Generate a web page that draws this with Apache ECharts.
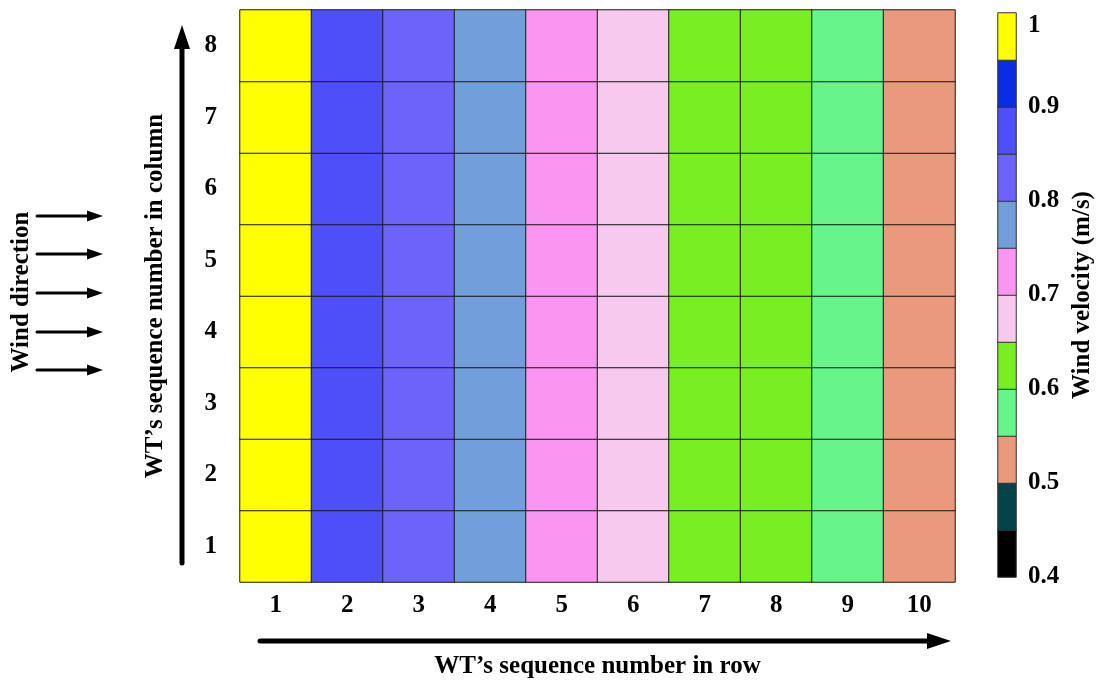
<!DOCTYPE html>
<html>
<head>
<meta charset="utf-8">
<script src="https://cdn.jsdelivr.net/npm/echarts@6/dist/echarts.min.js"></script>
<style>
  html, body { margin: 0; padding: 0; background: #fff; }
  #chart { width: 1096px; height: 686px; }
</style>
</head>
<body>
<div id="chart"></div>
<script>
// WT positions
const rowLabels = ['1', '2', '3', '4', '5', '6', '7', '8', '9', '10']
const colLabels = ['1', '2', '3', '4', '5', '6', '7', '8']
// wind velocity per row position (same along each column)
const velocity = [0.97, 0.87, 0.83, 0.78, 0.73, 0.68, 0.63, 0.62, 0.57, 0.52]

// colour bar bins (0.4 -> 1.0, step 0.05)
const binEdges = [0.40, 0.45, 0.50, 0.55, 0.60, 0.65, 0.70, 0.75, 0.80, 0.85, 0.90, 0.95, 1.00]
const binColors = ['#000000', '#04434a', '#ea9a7c', '#66f58a', '#77ef22', '#f8c9ef',
  '#fb95f2', '#729fda', '#6c64fa', '#4f4ffa', '#0a2ce6', '#ffff00']

const font = 'Liberation Serif'
const fs = 25

const cells = []
velocity.forEach((v, i) => {
  colLabels.forEach((c, j) => cells.push([i, j, v]))
})
const binNames = binColors.map((c, i) => String(i))
const barCells = binColors.map((c, i) => [0, i, (binEdges[i] + binEdges[i + 1]) / 2])
const pieces = binColors.map((c, i) => ({ gte: binEdges[i], lt: binEdges[i + 1], color: c }))
pieces[pieces.length - 1].lte = 1.0001

const chart = echarts.init(document.getElementById('chart'))

function arrow(x1, y1, x2, y2, w, headL, headW) {
  // straight arrow made of a line and a triangle head
  const dx = x2 - x1, dy = y2 - y1
  const len = Math.sqrt(dx * dx + dy * dy)
  const ux = dx / len, uy = dy / len
  const bx = x2 - ux * headL, by = y2 - uy * headL
  const px = -uy * headW / 2, py = ux * headW / 2
  return [{
    type: 'line',
    shape: { x1: x1, y1: y1, x2: bx + ux * 2, y2: by + uy * 2 },
    style: { stroke: '#000', lineWidth: w, lineCap: 'round' }
  }, {
    type: 'polygon',
    shape: { points: [[x2, y2], [bx + px, by + py], [bx - px, by - py]] },
    style: { fill: '#000' }
  }]
}

let graphics = []
graphics = graphics.concat(arrow(182, 563, 182, 25, 5, 24, 16))
graphics = graphics.concat(arrow(260, 641, 951, 641, 5, 24, 16))
;[216, 254, 293, 332, 370].forEach(y => {
  graphics = graphics.concat(arrow(37, y, 103, y, 3, 16, 11))
})
graphics.push({
  type: 'text',
  x: 22,
  y: 292,
  rotation: Math.PI / 2,
  style: {
    text: 'Wind direction',
    font: 'bold 25px "' + font + '"',
    fill: '#000',
    align: 'center',
    verticalAlign: 'middle'
  }
})

const labelStyle = { fontFamily: font, fontWeight: 'bold', fontSize: fs, color: '#000' }

chart.setOption({
  backgroundColor: '#fff',
  animation: false,
  grid: [
    { left: 240, top: 10, width: 715, height: 572 },
    { left: 998, top: 13, width: 18, height: 564 }
  ],
  xAxis: [{
    type: 'category',
    gridIndex: 0,
    data: rowLabels,
    name: 'WT’s sequence number in row',
    nameLocation: 'middle',
    nameGap: 72,
    nameTextStyle: labelStyle,
    axisLine: { show: false },
    axisTick: { show: false },
    axisLabel: Object.assign({ margin: 11 }, labelStyle),
    splitLine: { show: false }
  }, {
    type: 'category',
    gridIndex: 1,
    data: [''],
    show: false
  }],
  yAxis: [{
    type: 'category',
    gridIndex: 0,
    data: colLabels,
    name: 'WT’s sequence number in column',
    nameLocation: 'middle',
    nameRotate: 90,
    nameGap: 72,
    nameTextStyle: labelStyle,
    axisLine: { show: false },
    axisTick: { show: false },
    axisLabel: Object.assign({ margin: 23 }, labelStyle),
    splitLine: { show: false }
  }, {
    type: 'category',
    gridIndex: 1,
    data: binNames,
    show: false
  }, {
    type: 'value',
    gridIndex: 1,
    position: 'right',
    min: 0.4,
    max: 1,
    interval: 0.1,
    name: 'Wind velocity (m/s)',
    nameLocation: 'middle',
    nameRotate: 90,
    nameGap: 54,
    nameTextStyle: labelStyle,
    axisLine: { show: false },
    axisTick: { show: false },
    splitLine: { show: false },
    axisLabel: Object.assign({
      margin: 12,
      verticalAlignMaxLabel: 'top',
      formatter: v => String(Math.round(v * 10) / 10)
    }, labelStyle)
  }],
  visualMap: {
    type: 'piecewise',
    show: false,
    dimension: 2,
    seriesIndex: [0, 1],
    pieces: pieces
  },
  series: [{
    type: 'heatmap',
    xAxisIndex: 0,
    yAxisIndex: 0,
    data: cells,
    itemStyle: { borderColor: '#1a1a1a', borderWidth: 1 },
    emphasis: { disabled: true }
  }, {
    type: 'heatmap',
    xAxisIndex: 1,
    yAxisIndex: 1,
    data: barCells,
    itemStyle: { borderColor: '#333', borderWidth: 1 },
    emphasis: { disabled: true }
  }],
  graphic: graphics
})
</script>
</body>
</html>
